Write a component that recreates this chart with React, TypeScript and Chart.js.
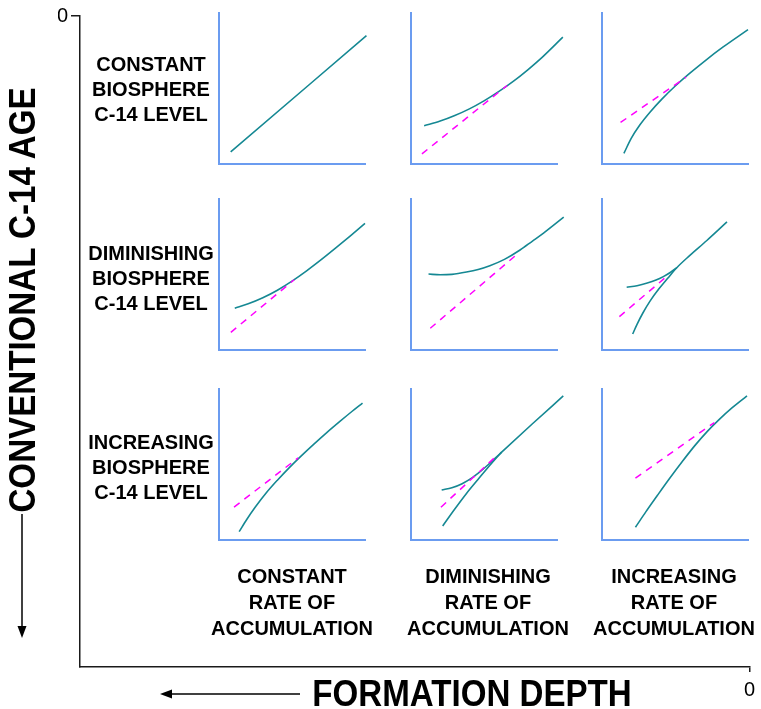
import React, { useEffect, useRef } from "react";
import { Chart, registerables } from "chart.js";

Chart.register(...registerables);

type Pt = [number, number];

// ---------- text ----------
const rowLabels: string[][] = [
  ["CONSTANT", "BIOSPHERE", "C-14 LEVEL"],
  ["DIMINISHING", "BIOSPHERE", "C-14 LEVEL"],
  ["INCREASING", "BIOSPHERE", "C-14 LEVEL"],
];
const colLabels: string[][] = [
  ["CONSTANT", "RATE OF", "ACCUMULATION"],
  ["DIMINISHING", "RATE OF", "ACCUMULATION"],
  ["INCREASING", "RATE OF", "ACCUMULATION"],
];
const yTitle = "CONVENTIONAL C-14 AGE";
const xTitle = "FORMATION DEPTH";
const originTicks = [0];

// ---------- data (formation depth %, C-14 age %) ----------
// row 1: constant biosphere level
const r1c1Age: Pt[] = [[8, 8], [101, 85]];
const r1c2Age: Pt[] = [[9, 25.3], [20, 28.4], [30, 32.1], [40, 36.5], [50, 41.8], [60, 47.9], [70, 54.7], [80, 62.4], [90, 70.8], [104, 84]];
const r1c2Ref: Pt[] = [[7.5, 6.7], [65.8, 52]];
const r1c3Age: Pt[] = [[15, 7], [20, 17], [26, 26], [33, 34.5], [41, 43], [50, 51.5], [60, 60], [71, 68.7], [83, 77.5], [100, 89]];
const r1c3Ref: Pt[] = [[12.7, 27.5], [57.6, 57.5]];
// row 2: diminishing biosphere level
const r2c1Age: Pt[] = [[10.8, 27.7], [20, 30.6], [30, 34.6], [40, 39.6], [50, 45.6], [60, 52.4], [70, 59.8], [80, 67.6], [90, 75.6], [100, 83.8], [105, 88]];
const r2c1Ref: Pt[] = [[8.1, 11.7], [51.5, 46.5]];
const r2c2Age: Pt[] = [[12, 50.3], [20, 49.8], [28, 50.1], [38, 51.6], [46, 53.3], [54, 55.8], [64, 60], [74.7, 66.2], [83, 72], [91, 77.6], [104.6, 88]];
const r2c2Ref: Pt[] = [[13.2, 14.4], [74.1, 64.6]];
const r2c3Upper: Pt[] = [[16.9, 41.6], [24, 42.6], [31, 44.3], [37, 46.3], [42, 48.6], [47, 51.5], [51.2, 54.5]];
const r2c3Lower: Pt[] = [[21, 10.6], [24, 17], [28, 24.5], [33, 32.5], [39, 40.5], [45, 47.5], [51.2, 54.5], [60, 62.5], [71.8, 72.5], [85.6, 84.8]];
const r2c3Ref: Pt[] = [[11.9, 22.1], [44.4, 48.8]];
// row 3: increasing biosphere level
const r3c1Age: Pt[] = [[13.8, 5.5], [19, 13.6], [25, 22], [32, 30.8], [40, 39.6], [48, 47.8], [56, 55.4], [65, 63.5], [74, 71.3], [83, 78.7], [91, 85.1], [98.3, 90.7]];
const r3c1Ref: Pt[] = [[10.3, 21.8], [54.2, 54.4]];
const r3c2Upper: Pt[] = [[21, 33.1], [28, 34.6], [35, 37.3], [42, 41.3], [48, 45.8], [53, 50], [57.5, 54], [62.1, 58.2], [83, 76.8], [104.3, 95.4]];
const r3c2Lower: Pt[] = [[21.7, 9.3], [30, 20.5], [38, 30.8], [46, 40.2], [52, 47.2], [57.5, 53.3], [62.1, 58.2]];
const r3c2Ref: Pt[] = [[20.5, 21.7], [58.7, 55.8]];
const r3c3Age: Pt[] = [[22.9, 8.4], [30, 18.6], [38, 29.6], [46, 40.4], [55, 52], [64, 63], [72, 71.8], [80, 79.6], [89, 87.5], [99.3, 95.5]];
const r3c3Ref: Pt[] = [[22.9, 41], [77, 77.8]];

const cellSolid: Pt[][][][] = [
  [[r1c1Age], [r1c2Age], [r1c3Age]],
  [[r2c1Age], [r2c2Age], [r2c3Upper, r2c3Lower]],
  [[r3c1Age], [r3c2Upper, r3c2Lower], [r3c3Age]],
];
const cellRef: (Pt[] | null)[][] = [
  [null, r1c2Ref, r1c3Ref],
  [r2c1Ref, r2c2Ref, r2c3Ref],
  [r3c1Ref, r3c2Ref, r3c3Ref],
];

// ---------- style / layout ----------
const FONT = '"Liberation Sans", Arial, Helvetica, sans-serif';
const TEAL = "#158893";
const MAGENTA = "#ff00ff";
const AXIS_BLUE = "#6b9cf0";
const DARK = "#1a1a1a";
const colLeft = [219, 411, 602];
const rowTop = [13, 199, 389];
const PLOT_W = 146;
const PLOT_H = 151;
const M = 20;

function Cell({ row, col }: { row: number; col: number }) {
  const ref = useRef<HTMLCanvasElement | null>(null);
  useEffect(() => {
    if (!ref.current) return;
    const toXY = (pts: Pt[]) => pts.map(([x, y]) => ({ x, y }));
    const datasets: any[] = cellSolid[row][col].map((pts) => ({
      data: toXY(pts),
      showLine: true,
      borderColor: TEAL,
      borderWidth: 1.6,
      pointRadius: 0,
      cubicInterpolationMode: "monotone",
      clip: false,
      fill: false,
    }));
    const dashed = cellRef[row][col];
    if (dashed) {
      datasets.unshift({
        data: toXY(dashed),
        showLine: true,
        borderColor: MAGENTA,
        borderWidth: 1.5,
        borderDash: [7, 6],
        pointRadius: 0,
        clip: false,
        fill: false,
      });
    }
    const axisOpts = (horizontal: boolean) => ({
      type: "linear",
      min: 0,
      max: 100,
      ticks: { display: false },
      grid: { display: false, drawTicks: false },
      border: { display: true, color: AXIS_BLUE, width: 2 },
      afterFit: (s: any) => {
        if (horizontal) s.height = 0;
        else s.width = 0;
      },
    });
    const chart = new Chart(ref.current, {
      type: "scatter",
      data: { datasets },
      options: {
        animation: false,
        responsive: false,
        devicePixelRatio: 1,
        layout: { padding: M },
        plugins: { legend: { display: false }, tooltip: { enabled: false } },
        scales: { x: axisOpts(true), y: axisOpts(false) } as any,
      },
    });
    return () => chart.destroy();
  }, [row, col]);
  return (
    <canvas
      ref={ref}
      width={PLOT_W + 2 * M}
      height={PLOT_H + 2 * M}
      style={{
        position: "absolute",
        left: colLeft[col] - M,
        top: rowTop[row] - M,
        width: PLOT_W + 2 * M,
        height: PLOT_H + 2 * M,
      }}
    />
  );
}

function Frame() {
  const ref = useRef<HTMLCanvasElement | null>(null);
  useEffect(() => {
    if (!ref.current) return;
    const setTicks = (s: any) => {
      s.ticks = originTicks.map((v) => ({ value: v }));
    };
    const chart = new Chart(ref.current, {
      type: "scatter",
      data: { datasets: [] },
      options: {
        animation: false,
        responsive: false,
        devicePixelRatio: 1,
        layout: { padding: { left: 58, top: 16, right: 9, bottom: 12 } },
        plugins: { legend: { display: false }, tooltip: { enabled: false } },
        scales: {
          x: {
            type: "linear",
            reverse: true,
            min: 0,
            max: 1,
            afterBuildTicks: setTicks,
            ticks: { color: "#000", padding: 6, font: { size: 20, family: FONT } },
            grid: { display: true, drawOnChartArea: false, drawTicks: true, tickLength: 5, color: DARK, lineWidth: 1.5 },
            border: { display: true, color: DARK, width: 1.5 },
            afterFit: (s: any) => {
              s.height = 30;
            },
          },
          y: {
            type: "linear",
            reverse: true,
            min: 0,
            max: 1,
            afterBuildTicks: setTicks,
            ticks: { color: "#000", padding: 3, font: { size: 20, family: FONT } },
            grid: { display: true, drawOnChartArea: false, drawTicks: true, tickLength: 9, color: DARK, lineWidth: 1.5 },
            border: { display: true, color: DARK, width: 1.5 },
            afterFit: (s: any) => {
              s.width = 22;
            },
          },
        } as any,
      },
    });
    return () => chart.destroy();
  }, []);
  return (
    <canvas
      ref={ref}
      width={761}
      height={709}
      style={{ position: "absolute", left: 0, top: 0, width: 761, height: 709 }}
    />
  );
}

const rowLabelTop = [52, 241, 430];
const colLabelCenter = [292, 488, 674];

export default function App() {
  const labelStyle: React.CSSProperties = {
    position: "absolute",
    fontFamily: FONT,
    fontWeight: 700,
    fontSize: 20,
    color: "#000",
    textAlign: "center",
    whiteSpace: "nowrap",
  };
  return (
    <div
      style={{
        position: "absolute",
        left: 0,
        top: 0,
        width: 761,
        height: 709,
        background: "#fff",
        overflow: "hidden",
      }}
    >
      <Frame />
      {rowLabels.map((lines, r) => (
        <div key={"r" + r} style={{ ...labelStyle, left: 81, width: 140, top: rowLabelTop[r], lineHeight: "25px" }}>
          {lines.map((t, i) => (
            <div key={i}>{t}</div>
          ))}
        </div>
      ))}
      {colLabels.map((lines, c) => (
        <div
          key={"c" + c}
          style={{ ...labelStyle, left: colLabelCenter[c] - 100, width: 200, top: 563, lineHeight: "26px" }}
        >
          {lines.map((t, i) => (
            <div key={i}>{t}</div>
          ))}
        </div>
      ))}
      {[0, 1, 2].map((r) =>
        [0, 1, 2].map((c) => <Cell key={r + "-" + c} row={r} col={c} />)
      )}
      <div
        style={{
          ...labelStyle,
          fontSize: 36,
          lineHeight: "36px",
          left: 272,
          width: 400,
          top: 676,
          transform: "scaleX(0.92)",
        }}
      >
        {xTitle}
      </div>
      <div
        style={{
          ...labelStyle,
          fontSize: 36,
          lineHeight: "36px",
          left: 23 - 260,
          width: 520,
          top: 300 - 18,
          transform: "rotate(-90deg) scaleX(0.92)",
        }}
      >
        {yTitle}
      </div>
      <svg
        width={761}
        height={709}
        style={{ position: "absolute", left: 0, top: 0, pointerEvents: "none" }}
      >
        <line x1={22} y1={514} x2={22} y2={630} stroke="#000" strokeWidth={1.5} />
        <polygon points="17.5,626 26.5,626 22,638" fill="#000" />
        <line x1={300} y1={694} x2={168} y2={694} stroke="#000" strokeWidth={1.5} />
        <polygon points="172,689.5 172,698.5 160,694" fill="#000" />
      </svg>
    </div>
  );
}
